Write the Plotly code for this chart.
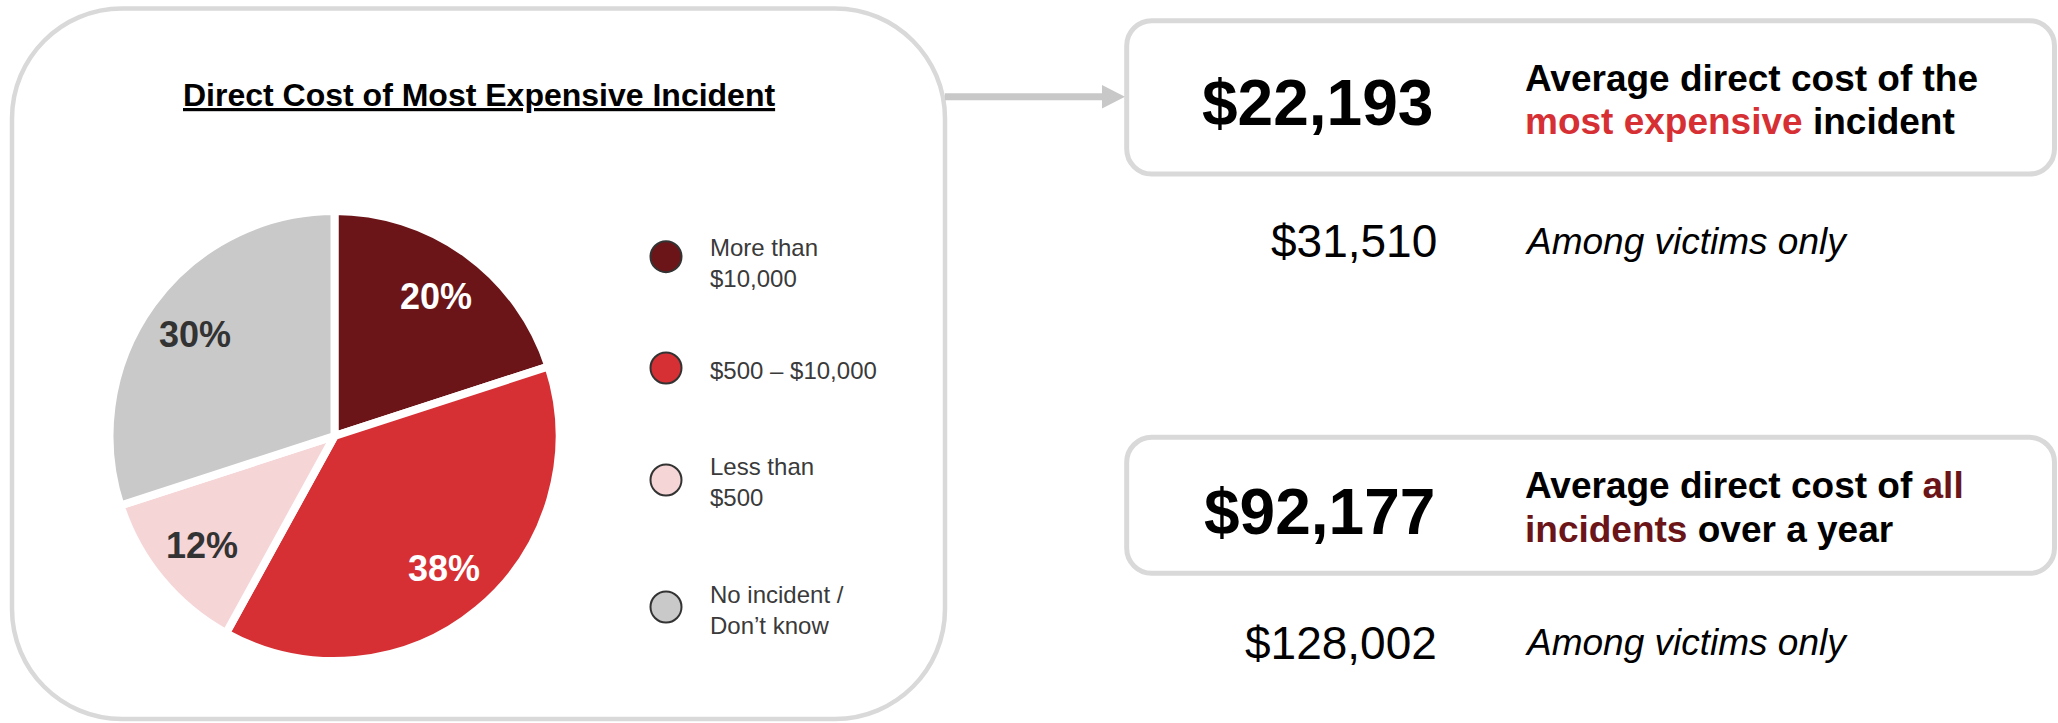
import math
import plotly.graph_objects as go

# ---------------- data ----------------
categories = ["More than<br>$10,000", "$500 – $10,000", "Less than<br>$500", "No incident /<br>Don’t know"]
shares = [20, 38, 12, 30]
slice_colors = ["#6B1519", "#D63035", "#F6D5D7", "#C9C9C9"]
pct_text_colors = ["#FFFFFF", "#FFFFFF", "#333333", "#333333"]

chart_title = "Direct Cost of Most Expensive Incident"

headline_values = ["$22,193", "$92,177"]
victim_values = ["$31,510", "$128,002"]
victim_note = "Among victims only"
caption_line1 = [
    "Average direct cost of the",
    "Average direct cost of <span style='color:#6B1519'>all</span>",
]
caption_line2 = [
    "<span style='color:#D63035'>most expensive</span> incident",
    "<span style='color:#6B1519'>incidents</span> over a year",
]

# ---------------- layout helpers (pixel -> paper) ----------------
W, H = 2058, 723
FONT = "Arial, 'Liberation Sans', sans-serif"


def px(x):
    return x / W


def py(y):
    return 1 - y / H


def pt(x, y):
    return f"{px(x):.6f},{py(y):.6f}"


def rrect(x0, y0, x1, y1, r):
    k = 0.5523 * r
    return (
        f"M {pt(x0 + r, y0)} L {pt(x1 - r, y0)} "
        f"C {pt(x1 - r + k, y0)} {pt(x1, y0 + r - k)} {pt(x1, y0 + r)} "
        f"L {pt(x1, y1 - r)} "
        f"C {pt(x1, y1 - r + k)} {pt(x1 - r + k, y1)} {pt(x1 - r, y1)} "
        f"L {pt(x0 + r, y1)} "
        f"C {pt(x0 + r - k, y1)} {pt(x0, y1 - r + k)} {pt(x0, y1 - r)} "
        f"L {pt(x0, y0 + r)} "
        f"C {pt(x0, y0 + r - k)} {pt(x0 + r - k, y0)} {pt(x0 + r, y0)} Z"
    )


# pie geometry
CX, CY, R = 334.5, 436.0, 225.0
LABEL_R = 172.0

fig = go.Figure()
fig.add_trace(
    go.Pie(
        labels=[c.replace("<br>", " ") for c in categories],
        values=shares,
        marker=dict(colors=slice_colors, line=dict(color="white", width=8)),
        sort=False,
        direction="clockwise",
        rotation=0,
        textinfo="none",
        hoverinfo="label+percent",
        showlegend=False,
        domain=dict(x=[px(CX - R), px(CX + R)], y=[py(CY + R), py(CY - R)]),
    )
)

shapes = []
annotations = []

# boxes
BORDER = "#D9D9D9"
shapes.append(dict(type="path", path=rrect(12, 8.5, 945, 719, 110), xref="paper", yref="paper",
                   line=dict(color=BORDER, width=4.5), fillcolor="rgba(0,0,0,0)", layer="below"))
box_y = [(20.7, 174.0), (437.3, 573.3)]
for y0, y1 in box_y:
    shapes.append(dict(type="path", path=rrect(1126.7, y0, 2054.5, y1, 25), xref="paper", yref="paper",
                       line=dict(color=BORDER, width=5), fillcolor="rgba(0,0,0,0)", layer="below"))

# arrow
ARROW = "#C8C8C8"
shapes.append(dict(type="line", x0=px(945), x1=px(1104), y0=py(96.7), y1=py(96.7), xref="paper", yref="paper",
                   line=dict(color=ARROW, width=7)))
shapes.append(dict(type="path", path=f"M {pt(1102, 85)} L {pt(1125, 96.7)} L {pt(1102, 108.4)} Z",
                   xref="paper", yref="paper", fillcolor=ARROW, line=dict(width=0)))

# title
annotations.append(dict(text=f"<b><u>{chart_title}</u></b>", x=px(479), y=py(95.5), xref="paper", yref="paper",
                        xanchor="center", yanchor="middle", showarrow=False,
                        font=dict(family=FONT, size=32, color="#000000")))

# percentage labels computed from the data
total = sum(shares)
cum = 0.0
for v, col in zip(shares, pct_text_colors):
    mid = (cum + v / 2) / total * 2 * math.pi
    cum += v
    lx = CX + LABEL_R * math.sin(mid)
    ly = CY - LABEL_R * math.cos(mid)
    annotations.append(dict(text=f"<b>{round(v / total * 100)}%</b>", x=px(lx), y=py(ly), xref="paper",
                            yref="paper", xanchor="center", yanchor="middle", showarrow=False,
                            font=dict(family=FONT, size=36, color=col)))

# legend
LEG_CX, LEG_R = 666, 15.5
leg_circle_y = [256.7, 368, 480, 607]
leg_text_y = [263, 371, 482, 610]
for cat, col, cy, ty in zip(categories, slice_colors, leg_circle_y, leg_text_y):
    shapes.append(dict(type="circle", x0=px(LEG_CX - LEG_R), x1=px(LEG_CX + LEG_R), y0=py(cy + LEG_R),
                       y1=py(cy - LEG_R), xref="paper", yref="paper", fillcolor=col,
                       line=dict(color="#333333", width=2)))
    annotations.append(dict(text=cat, x=px(709), y=py(ty), xref="paper", yref="paper", xanchor="left",
                            yanchor="middle", align="left", showarrow=False,
                            font=dict(family=FONT, size=24, color="#3A3A3A")))

# right-hand key figures
head_x = [1317, 1319.5]
head_y = [103.5, 512]
vic_y = [241.5, 642.5]
cap_y1 = [78, 485.5]
LINE_GAP = 43.5
for i in range(2):
    annotations.append(dict(text=f"<b>{headline_values[i]}</b>", x=px(head_x[i]), y=py(head_y[i]), xref="paper",
                            yref="paper", xanchor="center", yanchor="middle", showarrow=False,
                            font=dict(family=FONT, size=64, color="#000000")))
    annotations.append(dict(text=victim_values[i], x=px(1438), y=py(vic_y[i]), xref="paper", yref="paper",
                            xanchor="right", yanchor="middle", showarrow=False,
                            font=dict(family=FONT, size=46, color="#000000")))
    annotations.append(dict(text=f"<i>{victim_note}</i>", x=px(1524), y=py(vic_y[i]), xref="paper", yref="paper",
                            xanchor="left", yanchor="middle", showarrow=False,
                            font=dict(family=FONT, size=37, color="#000000")))
    annotations.append(dict(text=f"<b>{caption_line1[i]}</b>", x=px(1524), y=py(cap_y1[i]), xref="paper",
                            yref="paper", xanchor="left", yanchor="middle", showarrow=False,
                            font=dict(family=FONT, size=37, color="#000000")))
    annotations.append(dict(text=f"<b>{caption_line2[i]}</b>", x=px(1524), y=py(cap_y1[i] + LINE_GAP),
                            xref="paper", yref="paper", xanchor="left", yanchor="middle", showarrow=False,
                            font=dict(family=FONT, size=37, color="#000000")))

for a in annotations:
    a["borderpad"] = 0

fig.update_layout(
    width=W,
    height=H,
    margin=dict(l=0, r=0, t=0, b=0),
    paper_bgcolor="white",
    plot_bgcolor="white",
    shapes=shapes,
    annotations=annotations,
    showlegend=False,
    font=dict(family=FONT),
)

fig.write_html(
    "out.html",
    config={"displayModeBar": False},
    post_script="document.body.style.margin='0px';document.body.style.overflow='hidden';",
)
